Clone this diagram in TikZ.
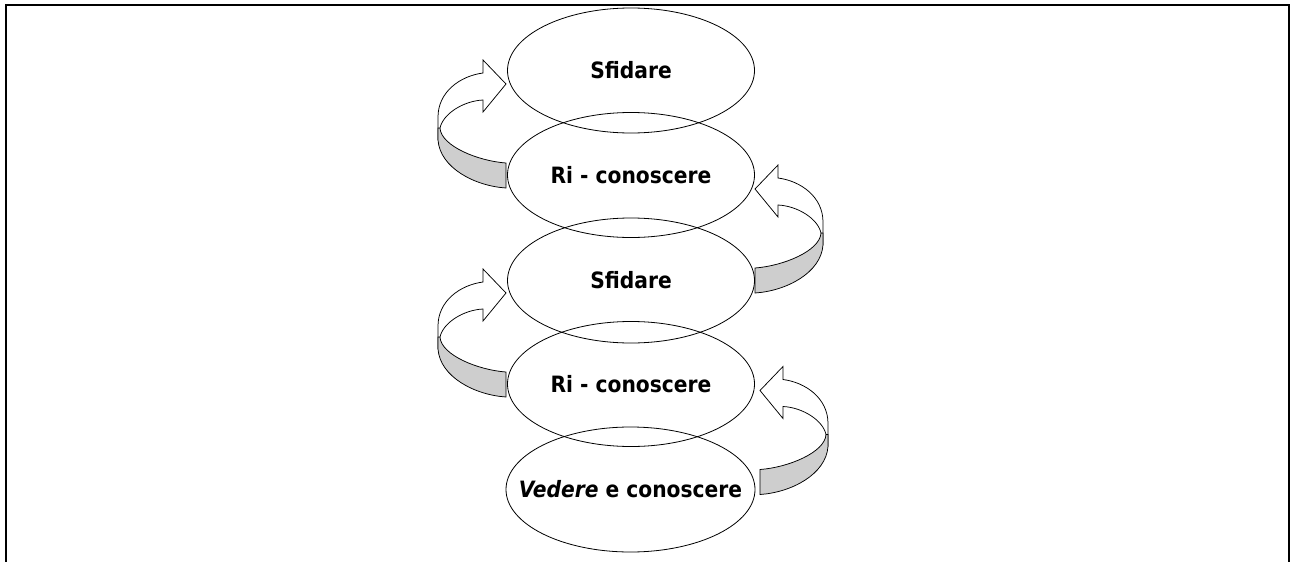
\documentclass[tikz,border=0pt]{standalone}
\usepackage{fontspec}
\usetikzlibrary{shapes.geometric}
\newfontfamily\lblfont{DejaVu Sans Condensed}[BoldFont={DejaVu Sans Condensed Bold},BoldItalicFont={DejaVu Sans Condensed Bold Oblique}]
\definecolor{bandgray}{RGB}{206,206,206}
\newcommand{\ovaltext}[1]{\makebox[0pt]{#1}}
\tikzset{
  oval/.style={ellipse, draw=black, line width=0.8pt, minimum width=247pt,
    minimum height=125pt, inner sep=0pt, font=\lblfont\bfseries\fontsize{22.5}{26}\selectfont},
  face/.style={draw=black, fill=white, line width=0.75pt, line join=miter},
  band/.style={draw=black, fill=bandgray, line width=0.75pt},
  % ribbon-like curved arrow with a visible side band; head points right
  looparrow/.pic={
    \path[face] (-43,44) .. controls (-40,30) and (-20,17) .. (0,16)
      -- (0,28) -- (23,0) -- (0,-24) -- (0,-11)
      .. controls (-23,-8) and (-45,8) .. (-45,33) -- (-45,56);
    \path[band] (-43,44) .. controls (-42,62) and (-5,77) .. (23,79)
      -- (23,104) .. controls (-8,102) and (-43,84) .. (-45,56)
      -- (-45,44) -- cycle;
  }
}
\begin{document}
\begin{tikzpicture}[x=1pt,y=-1pt]
  \useasboundingbox (0,0) rectangle (1291,562);
  % open frame: left, top and right sides
  \coordinate (fbl) at (6,562);
  \coordinate (ftl) at (6,5);
  \coordinate (ftr) at (1289,5);
  \coordinate (fbr) at (1289,562);
  \draw[line width=2pt] (fbl) -- (ftl) -- (ftr) -- (fbr);

  % stacked stages
  \node[oval] (e1) at (631,70.5) {\ovaltext{Sfidare}};
  \node[oval] (e2) at (631,175) {\ovaltext{Ri - conoscere}};
  \node[oval] (e3) at (631,280.5) {\ovaltext{Sfidare}};
  \node[oval] (e4) at (631,384) {\ovaltext{Ri - conoscere}};
  \node[oval, minimum width=249pt] (e5) at (630.5,489.5) {\ovaltext{\textit{Vedere} e conoscere}};

  % curved arrows between the stages
  \pic (l1) at (483,84) {looparrow};
  \pic (l2) at (483,293) {looparrow};
  \pic[xscale=-1] (r1) at (778,189) {looparrow};
  \pic[xscale=-1] (r2) at (783,390.5) {looparrow};
\end{tikzpicture}
\end{document}
